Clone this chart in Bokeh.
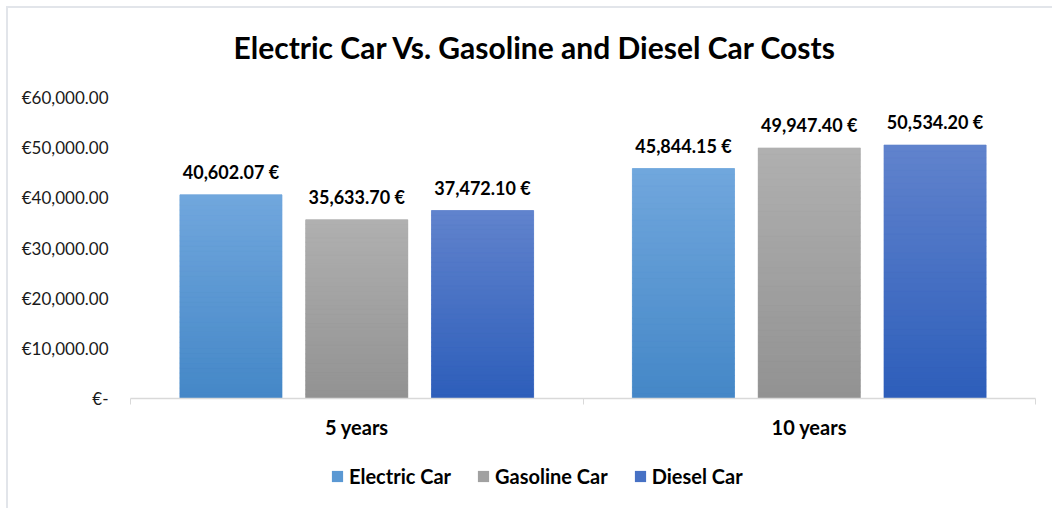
from bokeh.plotting import figure
from bokeh.layouts import column
from bokeh.models import FixedTicker, Range1d, ColumnDataSource, Legend, LegendItem
from bokeh.core.properties import value
from bokeh.embed import file_html
from bokeh.resources import INLINE

# ---- data ----
categories = ["5 years", "10 years"]
series = ["Electric Car", "Gasoline Car", "Diesel Car"]
electric = [40602.07, 45844.15]
gasoline = [35633.70, 49947.40]
diesel = [37472.10, 50534.20]
y_ticks = [0, 10000, 20000, 30000, 40000, 50000, 60000]
y_tick_labels = ["€-", "€10,000.00", "€20,000.00", "€30,000.00",
                 "€40,000.00", "€50,000.00", "€60,000.00"]

# ---- style ----
top_colors = ["#71a7dd", "#b0b0b0", "#6183cd"]
bottom_colors = ["#4487c7", "#929292", "#2d5eba"]
mid_colors = ["#5a98d3", "#a1a1a1", "#4771c4"]
offsets = [-0.278, 0.0, 0.278]
bar_w = 0.2257
FONT = "Lato"

# layout geometry (pixels inside the bordered box)
FIG_H = 437
TOP_B = 64          # frame top
BOT_B = 47          # below frame
FRAME_H = FIG_H - TOP_B - BOT_B
AXIS_SPAN = 301     # pixels from 0 to the 60,000 tick
y_end = y_ticks[-1] * FRAME_H / AXIS_SPAN

def hex2rgb(h):
    h = h.lstrip("#")
    return [int(h[i:i + 2], 16) for i in (0, 2, 4)]

def lerp(c1, c2, t):
    a, b = hex2rgb(c1), hex2rgb(c2)
    return "#%02x%02x%02x" % tuple(int(round(a[i] + (b[i] - a[i]) * t)) for i in range(3))

p = figure(width=1044, height=FIG_H, output_backend="svg", toolbar_location=None,
           x_range=Range1d(0, 2), y_range=Range1d(0, y_end),
           min_border_left=122, min_border_right=17, min_border_top=TOP_B,
           min_border_bottom=BOT_B)
p.outline_line_color = None
p.xgrid.visible = False
p.ygrid.visible = False

p.title.text = "Electric Car Vs. Gasoline and Diesel Car Costs"
p.title.text_font = FONT
p.title.text_font_size = "30px"
p.title.text_font_style = "bold"
p.title.text_color = "#000000"
p.title.align = "left"
p.title.offset = 103
p.title.vertical_align = "top"
p.title.standoff = 12

N = 40
for si, (name, vals) in enumerate(zip(series, [electric, gasoline, diesel])):
    xs = [ci + 0.5 + offsets[si] for ci in range(len(categories))]
    p.vbar(x=xs, top=vals, bottom=0, width=bar_w,
           fill_color=mid_colors[si], line_color=None)
    bx, bt, bb, bc = [], [], [], []
    for x, v in zip(xs, vals):
        for k in range(N):
            bx.append(x)
            bb.append(v * k / N)
            bt.append(v * (k + 1) / N)
            bc.append(lerp(bottom_colors[si], top_colors[si], (k + 0.5) / N))
    src = ColumnDataSource(dict(x=bx, top=bt, bottom=bb, color=bc))
    p.vbar(x="x", top="top", bottom="bottom", width=bar_w, fill_color="color",
           line_color="color", line_width=0.6, source=src)
    p.text(x=xs, y=vals, text=[f"{v:,.2f} €" for v in vals],
           text_align="center", text_baseline="alphabetic", y_offset=-23,
           text_font=value(FONT), text_font_style="bold", text_font_size="18px",
           text_color="#000000")

# x axis
xa = p.xaxis[0]
xa.ticker = FixedTicker(ticks=[0.5, 1.5], minor_ticks=[0, 1, 2])
xa.major_label_overrides = {0.5: categories[0], 1.5: categories[1]}
xa.major_tick_out = 0
xa.major_tick_in = 0
xa.minor_tick_out = 6
xa.minor_tick_in = 0
xa.minor_tick_line_color = "#d9d9d9"
xa.axis_line_color = "#d9d9d9"
xa.axis_line_width = 1.5
xa.major_label_text_font = FONT
xa.major_label_text_font_style = "bold"
xa.major_label_text_font_size = "20px"
xa.major_label_text_color = "#000000"
xa.major_label_standoff = 10

# y axis
ya = p.yaxis[0]
ya.ticker = FixedTicker(ticks=y_ticks)
ya.major_label_overrides = dict(zip(y_ticks, y_tick_labels))
ya.axis_line_color = None
ya.major_tick_line_color = None
ya.minor_tick_line_color = None
ya.major_tick_out = 0
ya.major_label_standoff = 22
ya.major_label_text_font = FONT
ya.major_label_text_font_size = "17px"
ya.major_label_text_color = "#1a1a1a"

# legend strip (frame aligned with the chart's frame by the column)
lf = figure(width=1044, height=63, output_backend="svg", toolbar_location=None,
            x_range=Range1d(0, 905), y_range=Range1d(0, 63),
            min_border=0, outline_line_color=None)
lf.axis.visible = False
lf.grid.visible = False
items = []
for si, name in enumerate(series):
    r = lf.vbar(x=[-1000], top=[0], width=1, fill_color=mid_colors[si], line_color=None)
    items.append(LegendItem(label=name, renderers=[r]))
legend = Legend(items=items, orientation="horizontal", location=(200, 20),
                border_line_color=None, background_fill_alpha=0,
                label_text_font=FONT, label_text_font_style="bold",
                label_text_font_size="20px", label_text_color="#000000",
                glyph_width=14, glyph_height=14, label_standoff=5, spacing=25,
                padding=0, margin=0)
lf.add_layout(legend, "center")

layout = column(p, lf, spacing=0, margin=(6, 0, 0, 6),
                styles={"border-left": "2px solid #e2e5ea",
                        "border-top": "2px solid #e2e5ea"})

open("out.html", "w").write(file_html(layout, INLINE))
